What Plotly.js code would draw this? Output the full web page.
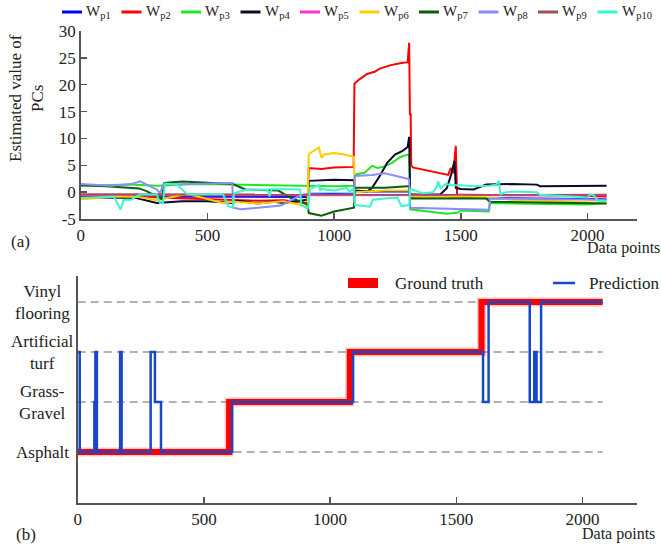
<!DOCTYPE html>
<html>
<head>
<meta charset="utf-8">
<script src="https://cdn.plot.ly/plotly-3.0.1.min.js"></script>
<style>html,body{margin:0;padding:0;background:#fff}#chart{width:661px;height:544px}</style>
</head>
<body>
<div id="chart"></div>
<script>
// ---------- top panel (a): estimated PCs, [data point, value] ----------
const seriesNames = ['p1','p2','p3','p4','p5','p6','p7','p8','p9','p10'];
const seriesColors = ['#0000ff','#ff0000','#22e622','#0a0a2a','#ff33cc','#ffcc00','#0b5e0b','#8c8cff','#a05050','#3cf5cc'];

const wp1 = [[0,-0.8],[900,-0.9],[902,-0.3],[1078,-0.3],[1082,0.1],[1296,0.1],[1300,-1.0],[2075,-1.3]];
const wp2 = [[0,-0.8],[120,-0.6],[230,-0.5],[300,-1.0],[450,-1.2],[600,-1.4],[700,-1.6],[800,-1.5],[870,-1.8],[895,-2.0],[900,4.5],[950,4.3],[1000,4.6],[1077,4.7],[1080,20.2],[1100,21.0],[1130,22.0],[1160,22.4],[1180,23.0],[1220,23.6],[1260,24.0],[1290,24.2],[1296,27.8],[1299,14.5],[1302,14.5],[1304,5.0],[1310,4.6],[1350,4.2],[1400,3.6],[1440,3.3],[1450,3.2],[1460,4.5],[1470,3.5],[1480,8.6],[1485,-0.5],[1500,-0.5],[1600,-0.5],[1800,-0.6],[2000,-0.7],[2075,-0.8]];
const wp3 = [[0,1.2],[200,1.4],[300,1.2],[450,1.5],[600,1.4],[700,1.3],[800,1.2],[900,1.1],[1000,1.1],[1078,1.2],[1082,3.3],[1120,3.6],[1150,4.9],[1170,4.5],[1200,4.8],[1230,5.5],[1260,6.5],[1290,7.0],[1296,6.8],[1300,-3.2],[1350,-3.5],[1400,-3.7],[1445,-4.0],[1490,-3.8],[1500,-3.4],[1610,-3.6],[1614,-2.0],[1700,-2.1],[1800,-2.2],[1900,-2.2],[2000,-2.3],[2075,-2.0]];
const wp4 = [[0,-1.1],[100,-1.0],[220,-1.1],[300,-2.0],[400,-1.7],[500,-1.7],[560,-1.9],[600,-2.0],[620,-1.6],[700,-2.1],[760,-1.8],[800,-2.0],[850,-1.7],[895,-1.4],[900,2.1],[1000,2.3],[1078,2.2],[1082,0.3],[1130,0.1],[1150,0.8],[1180,3.0],[1210,5.5],[1240,7.0],[1270,7.7],[1290,8.4],[1296,10.3],[1300,-0.4],[1350,-0.5],[1420,-0.4],[1445,0.8],[1460,3.0],[1475,5.8],[1480,0.8],[1500,0.6],[1550,0.5],[1600,1.4],[1700,1.5],[1800,1.4],[1812,1.1],[1900,1.1],[2075,1.2]];
const wp5 = [[0,-0.6],[900,-0.6],[1300,-0.5],[2075,-0.5]];
const wp6 = [[0,-1.3],[150,-0.8],[230,-0.9],[300,-1.5],[420,-0.3],[480,-1.0],[560,-2.0],[600,-1.8],[700,-2.1],[800,-1.7],[860,-2.3],[895,-2.8],[900,7.1],[940,8.3],[950,6.4],[960,7.0],[1000,7.3],[1040,7.0],[1078,6.6],[1082,0.0],[1200,0.3],[1296,0.3],[1300,-0.8],[1400,-1.0],[1500,-0.8],[1614,-1.0],[1700,-1.4],[1850,-1.6],[2000,-1.8],[2075,-2.0]];
const wp7 = [[0,1.3],[100,1.1],[230,0.7],[260,0.2],[320,-1.3],[330,1.7],[400,2.0],[500,1.8],[600,1.5],[650,0.5],[780,0.3],[826,-1.0],[880,-2.0],[895,-2.3],[900,-3.9],[950,-4.4],[1000,-3.6],[1075,-3.0],[1078,-2.9],[1082,0.8],[1200,0.8],[1290,1.1],[1296,1.1],[1300,-1.2],[1400,-1.2],[1470,-1.1],[1600,-1.2],[1614,-1.8],[1800,-1.9],[2000,-2.0],[2075,-2.1]];
const wp8 = [[0,1.5],[60,1.3],[120,1.2],[200,1.5],[234,2.0],[300,0.5],[313,-0.2],[325,1.4],[400,1.5],[510,1.7],[598,1.7],[602,-2.9],[630,-3.2],[700,-2.9],[760,-2.6],[790,-2.5],[850,-1.0],[880,-0.4],[900,-0.4],[1000,-0.5],[1078,-0.4],[1082,3.0],[1150,3.2],[1200,3.5],[1290,2.5],[1296,2.4],[1300,-2.9],[1400,-3.0],[1500,-3.2],[1612,-3.3],[1616,-1.2],[1800,-1.3],[2075,-1.4]];
const wp9 = [[0,-0.4],[900,-0.4],[1300,-0.4],[2075,-0.45]];
const wp10 = [[0,-1.1],[80,-1.0],[130,-0.8],[157,-3.2],[163,-2.5],[168,-1.5],[180,-1.4],[200,-1.4],[230,-0.5],[240,-0.4],[300,-0.5],[313,-2.0],[325,-2.1],[332,1.6],[380,1.4],[420,-0.4],[562,-0.4],[582,-2.6],[600,-2.9],[605,-0.2],[650,0.4],[738,0.5],[745,-0.8],[752,0.6],[800,0.5],[866,0.5],[870,-2.4],[895,-3.1],[900,-2.0],[905,0.6],[940,1.3],[945,0.4],[950,0.6],[1000,0.3],[1050,0.8],[1060,0.0],[1078,0.7],[1082,-2.4],[1141,-2.7],[1153,-1.4],[1200,-1.2],[1250,-1.0],[1265,-2.6],[1285,-2.5],[1296,-2.4],[1300,0.6],[1350,-0.2],[1390,0.0],[1405,1.0],[1410,2.0],[1420,0.8],[1440,1.5],[1470,1.3],[1500,1.3],[1550,1.1],[1610,1.2],[1640,1.4],[1650,2.1],[1656,-0.4],[1665,-0.2],[1680,0.0],[1700,0.1],[1800,0.0],[1811,-0.5],[1850,-0.6],[1950,-0.8],[2000,-1.0],[2010,-0.4],[2025,-0.6],[2040,-1.6],[2075,-1.7]];
const topSeries = [wp1,wp2,wp3,wp4,wp5,wp6,wp7,wp8,wp9,wp10];

const xTicks = [0, 500, 1000, 1500, 2000];
const yTicksTop = [-5, 0, 5, 10, 15, 20, 25, 30];

// ---------- bottom panel (b): surface classification ----------
const surfaceNames = ['Asphalt', 'Grass-<br>Gravel', 'Artificial<br>turf', 'Vinyl<br>flooring'];
const surfaceLevels = [1, 2, 3, 4];
const gridX = [0, 2080];
const groundTruth = [[0,1],[600,2],[1078,3],[1600,4],[2080,4]];
const prediction = [[0,3],[8,1],[66,2],[70,3],[76,1],[168,3],[174,1],[289,3],[306,2],[330,1],[612,2],[1091,3],[1606,2],[1628,4],[1791,2],[1809,3],[1812,2],[1815,3],[1818,2],[1836,4],[2080,4]];

const W = 661, H = 544;
const px = v => v / W, py = v => 1 - v / H;
const serif = 'Liberation Serif';
const axisCol = '#555';

const traces = [];
topSeries.forEach((s, i) => {
  traces.push({x: s.map(p => p[0]), y: s.map(p => p[1]), mode: 'lines', xaxis: 'x', yaxis: 'y',
    line: {color: seriesColors[i], width: 2}, hoverinfo: 'skip', showlegend: false});
});
surfaceLevels.forEach(lv => {
  traces.push({x: gridX, y: [lv, lv], mode: 'lines', xaxis: 'x2', yaxis: 'y2',
    line: {color: '#666', width: 1.2, dash: '8px,5px'}, hoverinfo: 'skip', showlegend: false});
});
traces.push({x: groundTruth.map(p => p[0]), y: groundTruth.map(p => p[1]), mode: 'lines', xaxis: 'x2', yaxis: 'y2',
  line: {color: 'rgba(255,60,60,0.3)', width: 9, shape: 'hv'}, hoverinfo: 'skip', showlegend: false});
traces.push({x: groundTruth.map(p => p[0]), y: groundTruth.map(p => p[1]), mode: 'lines', xaxis: 'x2', yaxis: 'y2',
  line: {color: '#ff0000', width: 6, shape: 'hv'}, hoverinfo: 'skip', showlegend: false});
traces.push({x: prediction.map(p => p[0]), y: prediction.map(p => p[1]), mode: 'lines', xaxis: 'x2', yaxis: 'y2',
  line: {color: '#1748c8', width: 2.5, shape: 'hv'}, hoverinfo: 'skip', showlegend: false});

const shapes = [], annotations = [];
// custom legend (a)
seriesNames.forEach((n, i) => {
  const x0 = 62 + 59.5 * i;
  shapes.push({type: 'line', xref: 'paper', yref: 'paper', x0: px(x0), x1: px(x0 + 20), y0: py(12), y1: py(12),
    line: {color: seriesColors[i], width: 3}});
  annotations.push({xref: 'paper', yref: 'paper', x: px(x0 + 22), y: py(12), xanchor: 'left', yanchor: 'middle',
    text: 'W<sub>' + n + '</sub>', showarrow: false, font: {family: serif, size: 15, color: '#222'}});
});
// custom legend (b)
shapes.push({type: 'line', xref: 'paper', yref: 'paper', x0: px(348), x1: px(378), y0: py(283), y1: py(283),
  line: {color: '#ff0000', width: 10}});
shapes.push({type: 'line', xref: 'paper', yref: 'paper', x0: px(553), x1: px(575), y0: py(283), y1: py(283),
  line: {color: '#1748c8', width: 2.5}});
annotations.push({xref: 'paper', yref: 'paper', x: px(393), y: py(283), xanchor: 'left', yanchor: 'middle',
  text: 'Ground truth', showarrow: false, font: {family: serif, size: 17, color: '#222'}});
annotations.push({xref: 'paper', yref: 'paper', x: px(587), y: py(283), xanchor: 'left', yanchor: 'middle',
  text: 'Prediction', showarrow: false, font: {family: serif, size: 17, color: '#222'}});
// surface labels
surfaceNames.forEach((n, i) => {
  annotations.push({xref: 'paper', yref: 'y2', x: px(42), y: surfaceLevels[i], xanchor: 'center', yanchor: 'middle',
    align: 'center', text: n, showarrow: false, font: {family: serif, size: 17, color: '#222'}});
});
// titles and panel tags
annotations.push({xref: 'paper', yref: 'paper', x: px(26), y: py(98), xanchor: 'center', yanchor: 'middle',
  textangle: -90, align: 'center', text: 'Estimated value of<br>PCs', showarrow: false,
  font: {family: serif, size: 17, color: '#222'}});
annotations.push({xref: 'paper', yref: 'paper', x: px(585), y: py(248), xanchor: 'left', yanchor: 'middle',
  text: 'Data points', showarrow: false, font: {family: serif, size: 16, color: '#222'}});
annotations.push({xref: 'paper', yref: 'paper', x: px(580), y: py(534), xanchor: 'left', yanchor: 'middle',
  text: 'Data points', showarrow: false, font: {family: serif, size: 16, color: '#222'}});
annotations.push({xref: 'paper', yref: 'paper', x: px(9), y: py(241), xanchor: 'left', yanchor: 'middle',
  text: '(a)', showarrow: false, font: {family: serif, size: 17, color: '#222'}});
annotations.push({xref: 'paper', yref: 'paper', x: px(14), y: py(534), xanchor: 'left', yanchor: 'middle',
  text: '(b)', showarrow: false, font: {family: serif, size: 17, color: '#222'}});

const topXMax = 2195, botXMax = 2216;
const axisCommon = {showline: true, linecolor: axisCol, linewidth: 1.5, ticks: 'inside', ticklen: 6,
  tickwidth: 1.5, tickcolor: axisCol, showgrid: false, zeroline: false, fixedrange: true,
  tickfont: {family: serif, size: 17, color: '#222'}};

const layout = {
  width: W, height: H, margin: {l: 0, r: 0, t: 0, b: 0}, paper_bgcolor: '#fff', plot_bgcolor: '#fff',
  showlegend: false, font: {family: serif},
  xaxis: Object.assign({}, axisCommon, {domain: [px(80.7), px(637)], range: [0, topXMax], anchor: 'y',
    tickmode: 'array', tickvals: xTicks.concat([topXMax]), ticktext: xTicks.map(String).concat([''])}),
  yaxis: Object.assign({}, axisCommon, {domain: [py(219), py(31)], range: [-5, 30], anchor: 'x',
    tickmode: 'array', tickvals: yTicksTop, ticktext: yTicksTop.map(String)}),
  xaxis2: Object.assign({}, axisCommon, {domain: [px(77.7), px(637)], range: [0, botXMax], anchor: 'y2',
    tickmode: 'array', tickvals: xTicks.concat([botXMax]), ticktext: xTicks.map(String).concat([''])}),
  yaxis2: Object.assign({}, axisCommon, {domain: [py(503), py(276)], range: [-0.02, 4.52], anchor: 'x2',
    ticks: '', showticklabels: false}),
  shapes: shapes, annotations: annotations
};

Plotly.newPlot('chart', traces, layout, {displayModeBar: false, staticPlot: true});
</script>
</body>
</html>
